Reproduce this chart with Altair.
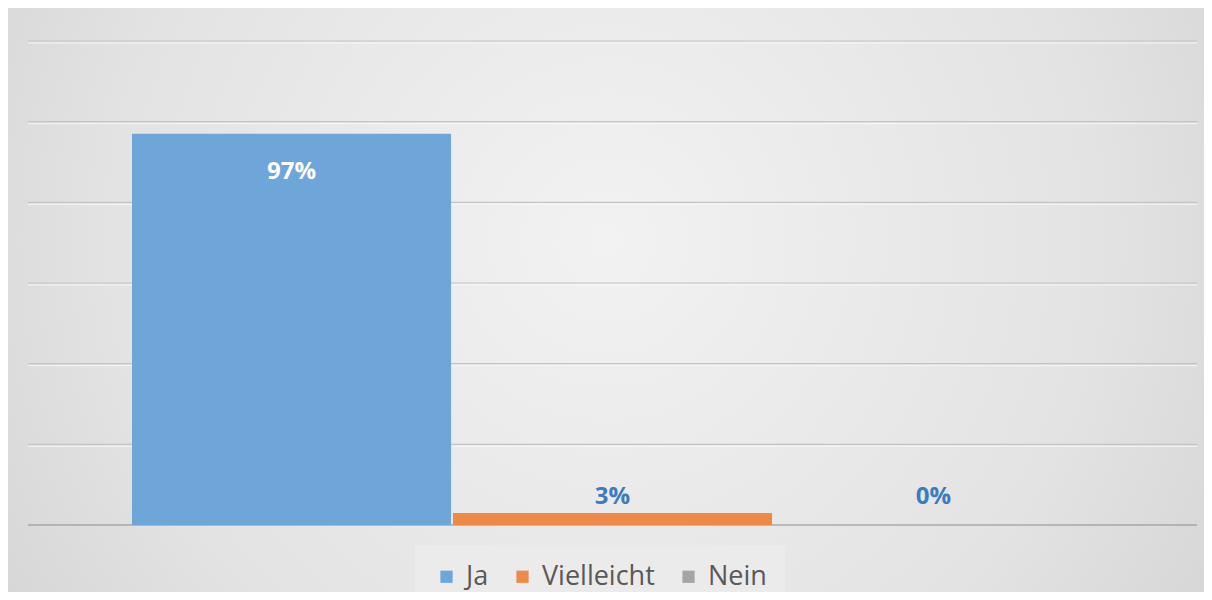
import altair as alt
import pandas as pd

series = ["Ja", "Vielleicht", "Nein"]
values = [0.97, 0.03, 0.0]
labels = ["97%", "3%", "0%"]
colors = ["#6fa6d9", "#ee8a48", "#a5a5a5"]
grid_values = [0.2, 0.4, 0.6, 0.8, 1.0, 1.2]

df = pd.DataFrame({"series": series, "value": values, "label": labels})
grid_df = pd.DataFrame({"v": grid_values})
base_df = pd.DataFrame({"v": [0.0]})
bg_df = pd.DataFrame({"a": [0]})

W, H = 1169, 484
PL, PT = 20, 33
TOTAL_W, TOTAL_H = 1196, 584
FONT = "Open Sans"

xscale = alt.Scale(domain=series, paddingInner=0.006, paddingOuter=0.324)
yscale = alt.Scale(domain=[0, 1.2], nice=False)

bg = alt.Chart(bg_df).mark_rect(
    color={
        "gradient": "radial",
        "x1": 0.5, "y1": 0.45, "r1": 0.0,
        "x2": 0.5, "y2": 0.45, "r2": 0.75,
        "stops": [
            {"offset": 0, "color": "#f2f2f2"},
            {"offset": 0.55, "color": "#e3e3e3"},
            {"offset": 1, "color": "#cbcbcb"},
        ],
    }
).encode(
    x=alt.value(-PL), x2=alt.value(TOTAL_W - PL),
    y=alt.value(-PT), y2=alt.value(TOTAL_H - PT),
)

grid = alt.Chart(grid_df).mark_rule(color="#c4c4c4", strokeWidth=1.2).encode(
    y=alt.Y("v:Q", scale=yscale, axis=None)
)
grid_hl = alt.Chart(grid_df).mark_rule(color="#f6f6f6", strokeWidth=1, yOffset=2).encode(
    y=alt.Y("v:Q", scale=yscale, axis=None)
)

baseline = alt.Chart(base_df).mark_rule(color="#8c8c8c", strokeWidth=1.2).encode(
    y=alt.Y("v:Q", scale=yscale, axis=None)
)

bars = alt.Chart(df).mark_bar().encode(
    x=alt.X("series:N", scale=xscale, axis=None, sort=series),
    y=alt.Y("value:Q", scale=yscale, axis=None),
    color=alt.Color(
        "series:N",
        scale=alt.Scale(domain=series, range=colors),
        sort=series,
        legend=alt.Legend(
            title=None, orient="none", direction="horizontal",
            legendX=387, legendY=504,
            symbolType="square", symbolSize=150, symbolStrokeWidth=0,
            labelFont=FONT, labelFontSize=27, labelColor="#595959",
            labelOffset=6, columnPadding=20,
            fillColor="#ebebeb", padding=18,
        ),
    ),
)

inside = alt.Chart(df).transform_filter("datum.value >= 0.5").mark_text(
    font=FONT, fontSize=24, fontWeight="bold", color="#ffffff", dy=38, baseline="middle"
).encode(
    x=alt.X("series:N", scale=xscale, axis=None, sort=series),
    y=alt.Y("value:Q", scale=yscale, axis=None),
    text="label:N",
)

outside = alt.Chart(df).transform_filter("datum.value < 0.5").transform_calculate(
    ly="max(datum.value, 0.03)"
).mark_text(
    font=FONT, fontSize=24, fontWeight="bold", color="#3b7bbf", dy=-16, baseline="middle"
).encode(
    x=alt.X("series:N", scale=xscale, axis=None, sort=series),
    y=alt.Y("ly:Q", scale=yscale, axis=None),
    text="label:N",
)

chart = alt.layer(bg, grid_hl, grid, baseline, bars, inside, outside).properties(
    width=W, height=H,
    autosize=alt.AutoSizeParams(type="none"),
    padding={"left": PL, "top": PT, "right": TOTAL_W - PL - W, "bottom": TOTAL_H - PT - H},
    background="#dcdcdc",
).configure_view(stroke=None)

chart.save("out.html", embed_options={"renderer": "svg", "actions": False})
